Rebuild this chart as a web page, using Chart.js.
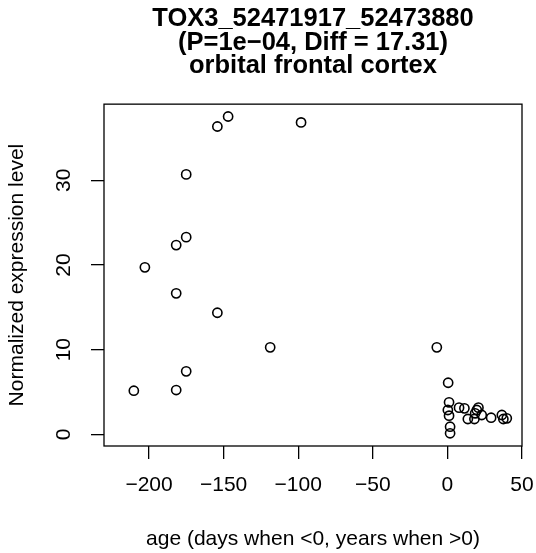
<!DOCTYPE html>
<html>
<head>
<meta charset="utf-8">
<script src="https://cdn.jsdelivr.net/npm/chart.js@4/dist/chart.umd.min.js"></script>
<style>
  html, body { margin: 0; padding: 0; background: #fff; }
  #wrap { width: 536px; height: 553px; }
</style>
</head>
<body>
<div id="wrap"><canvas id="c" width="536" height="553"></canvas></div>
<script>
// ---- data ----
const ageValues = [
  -210.2, -202.8, -181.8, -181.8, -181.8, -175.1, -175.1, -175.1,
  -154.2, -154.2, -147.0, -118.8, -98.1, -7.1,
  0.5, 1.1, 0.3, 1.1, 1.8, 1.8,
  7.8, 11.4, 13.7, 18.1, 19.7, 20.8, 18.6, 23.0, 29.3, 36.5, 37.5, 39.8
];
const expressionValues = [
  5.15, 19.72, 22.35, 16.65, 5.23, 30.70, 23.29, 7.44,
  36.36, 14.36, 37.54, 10.27, 36.84, 10.27,
  6.09, 3.78, 2.87, 2.20, 0.90, 0.12,
  3.15, 3.07, 1.81, 1.81, 2.87, 3.15, 2.48, 2.28, 1.96, 2.28, 1.81, 1.89
];
const xTickValues = [-200, -150, -100, -50, 0, 50];
const yTickValues = [0, 10, 20, 30];
const titleLines = ['TOX3_52471917_52473880', '(P=1e\u221204, Diff = 17.31)', 'orbital frontal cortex'];
const xLabel = 'age (days when <0, years when >0)';
const yLabel = 'Normalized expression level';

const points = ageValues.map((a, i) => ({ x: a, y: expressionValues[i] }));

const FONT = "'Liberation Sans', Arial, Helvetica, sans-serif";
const fmt = v => (v < 0 ? '\u2212' + Math.abs(v) : String(v));

const boxPlugin = {
  id: 'box',
  afterDraw(chart) {
    const { ctx, chartArea: a } = chart;
    ctx.save();
    ctx.strokeStyle = '#000';
    ctx.lineWidth = 1.3;
    ctx.strokeRect(a.left, a.top, a.right - a.left, a.bottom - a.top);
    ctx.restore();
  }
};

new Chart(document.getElementById('c'), {
  type: 'scatter',
  data: {
    datasets: [{
      data: points,
      pointStyle: 'circle',
      pointRadius: 4.6,
      pointHoverRadius: 4.6,
      borderColor: '#000',
      backgroundColor: 'rgba(0,0,0,0)',
      pointBorderWidth: 1.6,
      borderWidth: 1.6
    }]
  },
  options: {
    responsive: false,
    animation: false,
    events: [],
    layout: { padding: { left: 0, right: 14, top: 0, bottom: 0 } },
    plugins: {
      legend: { display: false },
      tooltip: { enabled: false },
      title: {
        display: true,
        fullSize: false,
        text: titleLines,
        color: '#000',
        font: { family: FONT, size: 25.5, weight: 'bold', lineHeight: 0.93 },
        padding: { top: 7, bottom: 26 }
      }
    },
    scales: {
      x: {
        type: 'linear',
        min: -230.2,
        max: 50,
        afterFit: s => { s.height = 107; s.paddingLeft = 0; s.paddingRight = 0; },
        afterBuildTicks: s => { s.ticks = xTickValues.map(v => ({ value: v })); },
        grid: { drawOnChartArea: false, drawTicks: true, tickLength: 13, color: '#000', lineWidth: 1.3 },
        border: { display: false },
        ticks: {
          color: '#000',
          font: { family: FONT, size: 21 },
          padding: 14,
          maxRotation: 0,
          minRotation: 0,
          autoSkip: false,
          callback: v => fmt(v)
        },
        title: {
          display: true,
          text: xLabel,
          color: '#000',
          font: { family: FONT, size: 21 },
          padding: { top: 0, bottom: 1 }
        }
      },
      y: {
        type: 'linear',
        min: -1.38,
        max: 39.0,
        afterFit: s => { s.width = 104; s.paddingTop = 0; s.paddingBottom = 0; },
        afterBuildTicks: s => { s.ticks = yTickValues.map(v => ({ value: v })); },
        grid: { drawOnChartArea: false, drawTicks: true, tickLength: 13, color: '#000', lineWidth: 1.3 },
        border: { display: false },
        ticks: {
          color: '#000',
          font: { family: FONT, size: 21 },
          padding: 15,
          minRotation: 90,
          maxRotation: 90,
          crossAlign: 'center',
          autoSkip: false,
          callback: v => fmt(v)
        },
        title: {
          display: true,
          text: yLabel,
          color: '#000',
          font: { family: FONT, size: 21 },
          padding: { top: 5, bottom: 0 }
        }
      }
    }
  },
  plugins: [boxPlugin]
});
</script>
</body>
</html>
